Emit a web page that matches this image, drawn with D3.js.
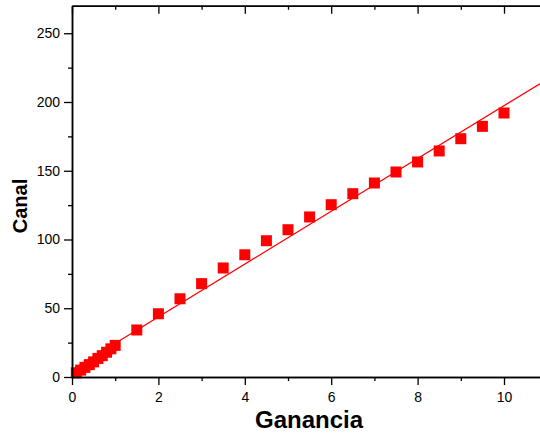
<!DOCTYPE html>
<html>
<head>
  <script src="https://d3js.org/d3.v7.min.js"></script>
  <style>
    body { margin: 0; background: #fff; }
    text { font-family: "Liberation Sans", Arial, sans-serif; }
  </style>
</head>
<body>
  <div id="chart"></div>
  <script>
    // gain vs channel, with linear fit
    const ganancia = [0.1, 0.2, 0.3, 0.4, 0.5, 0.6, 0.7, 0.8, 0.9, 1.0,
      1.5, 2, 2.5, 3, 3.5, 4, 4.5, 5, 5.5, 6, 6.5, 7, 7.5, 8, 8.5, 9, 9.5, 10];
    const canal = [3, 5, 7, 9, 11, 13.5, 15.5, 18, 20.5, 23,
      34.2, 46, 56.9, 67.9, 79.3, 88.9, 99.1, 107.1, 116.4, 125.3, 133.3,
      141.1, 149.1, 156.4, 164.4, 173.3, 182.3, 192];
    const fitIntercept = 5.3;
    const fitSlope = 19.2;
    const xTicks = [0, 2, 4, 6, 8, 10];
    const xMinor = [1, 3, 5, 7, 9, 11];
    const yTicks = [0, 50, 100, 150, 200, 250];
    const yMinor = [25, 75, 125, 175, 225];

    const width = 540, height = 434;

    const svg = d3.select("#chart").append("svg")
      .attr("width", width)
      .attr("height", height);

    const x = d3.scaleLinear().domain([0, 11]).range([72, 72 + 11 * 43.2]);
    const y = d3.scaleLinear().domain([0, 270]).range([377, 377 - 270 * 1.375]);

    // fit line across the axis range
    const fit = [0, 11].map(v => [v, fitIntercept + fitSlope * v]);
    svg.append("path")
      .datum(fit)
      .attr("d", d3.line().x(d => x(d[0])).y(d => y(d[1])))
      .attr("fill", "none")
      .attr("stroke", "#ff0000")
      .attr("stroke-width", 1.2);

    const s = 11;
    svg.selectAll("rect.pt")
      .data(ganancia.map((g, i) => [g, canal[i]]))
      .enter().append("rect")
      .attr("class", "pt")
      .attr("x", d => x(d[0]) - s / 2)
      .attr("y", d => y(d[1]) - s / 2)
      .attr("width", s)
      .attr("height", s)
      .attr("fill", "#ff0000");

    function styleAxis(g) {
      g.selectAll("path").attr("stroke", "#000").attr("stroke-width", 1.5);
      g.selectAll("line").attr("stroke", "#000").attr("stroke-width", 1.3);
      g.selectAll("text").attr("font-size", 14).attr("fill", "#000")
        .style("font-family", "'Liberation Sans', Arial, sans-serif");
    }

    // bottom axis
    svg.append("g").attr("transform", "translate(0," + y(0) + ")")
      .call(d3.axisBottom(x).tickValues(xMinor).tickSize(4).tickFormat("").tickSizeOuter(0))
      .call(styleAxis);
    svg.append("g").attr("transform", "translate(0," + y(0) + ")")
      .call(d3.axisBottom(x).tickValues(xTicks).tickSize(8).tickPadding(7).tickSizeOuter(0))
      .call(styleAxis);

    // top axis, ticks inward
    svg.append("g").attr("transform", "translate(0," + y(270) + ")")
      .call(d3.axisTop(x).tickValues(xMinor).tickSize(-4).tickFormat("").tickSizeOuter(0))
      .call(styleAxis);
    svg.append("g").attr("transform", "translate(0," + y(270) + ")")
      .call(d3.axisTop(x).tickValues(xTicks).tickSize(-8).tickFormat("").tickSizeOuter(0))
      .call(styleAxis);

    // left axis
    svg.append("g").attr("transform", "translate(" + x(0) + ",0)")
      .call(d3.axisLeft(y).tickValues(yMinor).tickSize(4).tickFormat("").tickSizeOuter(0))
      .call(styleAxis);
    svg.append("g").attr("transform", "translate(" + x(0) + ",0)")
      .call(d3.axisLeft(y).tickValues(yTicks).tickSize(8).tickPadding(4).tickSizeOuter(0))
      .call(styleAxis);

    svg.append("text")
      .attr("x", 309)
      .attr("y", 428)
      .attr("text-anchor", "middle")
      .attr("font-size", 24)
      .attr("font-weight", "bold")
      .text("Ganancia");

    svg.append("text")
      .attr("transform", "translate(27,206) rotate(-90)")
      .attr("text-anchor", "middle")
      .attr("font-size", 20)
      .attr("font-weight", "bold")
      .text("Canal");
  </script>
</body>
</html>
